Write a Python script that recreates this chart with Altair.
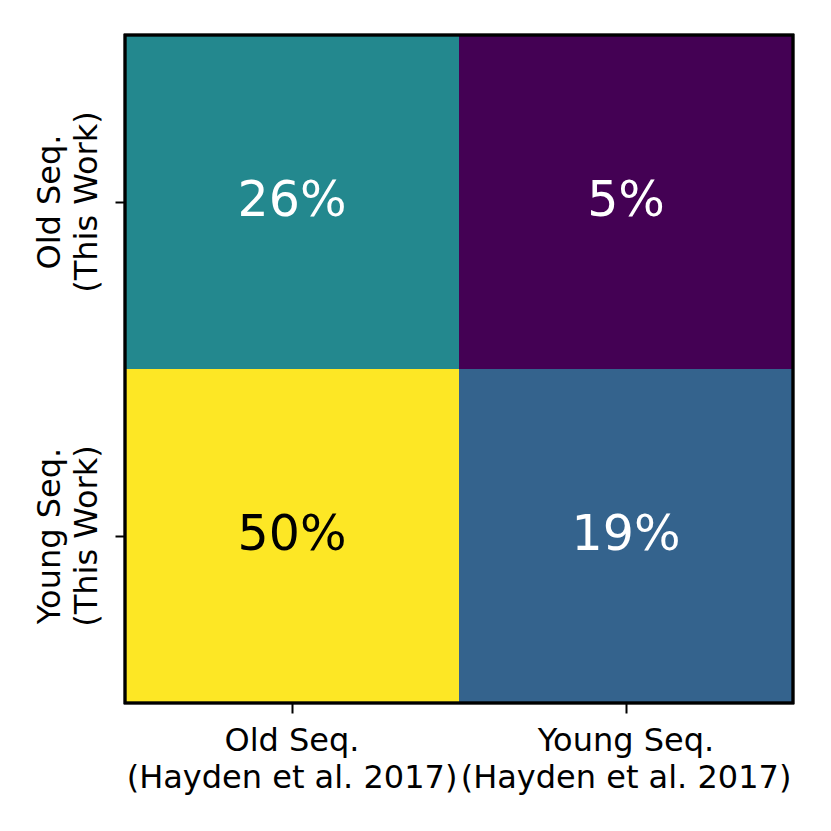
import altair as alt
import pandas as pd

x_cats = ["Old Seq.|(Hayden et al. 2017)", "Young Seq.|(Hayden et al. 2017)"]
y_cats = ["Old Seq.|(This Work)", "Young Seq.|(This Work)"]
row_y = ["Old Seq.|(This Work)", "Old Seq.|(This Work)", "Young Seq.|(This Work)", "Young Seq.|(This Work)"]
row_x = [x_cats[0], x_cats[1], x_cats[0], x_cats[1]]
values = [26, 5, 50, 19]

df = pd.DataFrame({"x": row_x, "y": row_y, "v": values})
df["label"] = df["v"].astype(str) + "%"

FONT = "DejaVu Sans"
LFS = 32
LLH = 37

xenc = alt.X("x:N", sort=x_cats, title=None,
             scale=alt.Scale(paddingInner=0, paddingOuter=0),
             axis=alt.Axis(labelExpr="split(datum.label, '|')", labelAngle=0,
                           labelFont=FONT, labelFontSize=LFS, labelLineHeight=LLH,
                           labelColor="black", tickColor="black", tickSize=10, tickWidth=2,
                           domain=False, labelPadding=37, labelBaseline="alphabetic",
                           labelLimit=0))
yenc = alt.Y("y:N", sort=y_cats, title=None,
             scale=alt.Scale(paddingInner=0, paddingOuter=0),
             axis=alt.Axis(labelExpr="split(datum.label, '|')", labelAngle=270,
                           labelAlign="center", labelBaseline="alphabetic",
                           labelFont=FONT, labelFontSize=LFS, labelLineHeight=LLH,
                           labelColor="black", tickColor="black", tickSize=10, tickWidth=2,
                           domain=False, labelPadding=56, labelLimit=0))

base = alt.Chart(df).encode(x=xenc, y=yenc)

rects = base.mark_rect().encode(
    color=alt.Color("v:Q", scale=alt.Scale(scheme="viridis", domain=[5, 50]), legend=None)
)
texts = base.mark_text(font=FONT, fontSize=49, baseline="alphabetic", align="center", dy=14).encode(
    text="label:N",
    color=alt.condition("datum.v > 40", alt.value("black"), alt.value("white")),
)
frame = alt.Chart(df).mark_rect(fill=None, stroke="black", strokeWidth=2.5, filled=False).encode(
    x=alt.value(0), x2=alt.value(668), y=alt.value(0), y2=alt.value(668)
)

chart = (rects + texts + frame).properties(
    width=668, height=668,
    autosize=alt.AutoSizeParams(type="none"),
    padding={"left": 117, "top": 27, "right": 30, "bottom": 120},
).configure_view(stroke=None).configure(background="white")

chart.save("out.html", embed_options={"renderer": "svg", "actions": False})
